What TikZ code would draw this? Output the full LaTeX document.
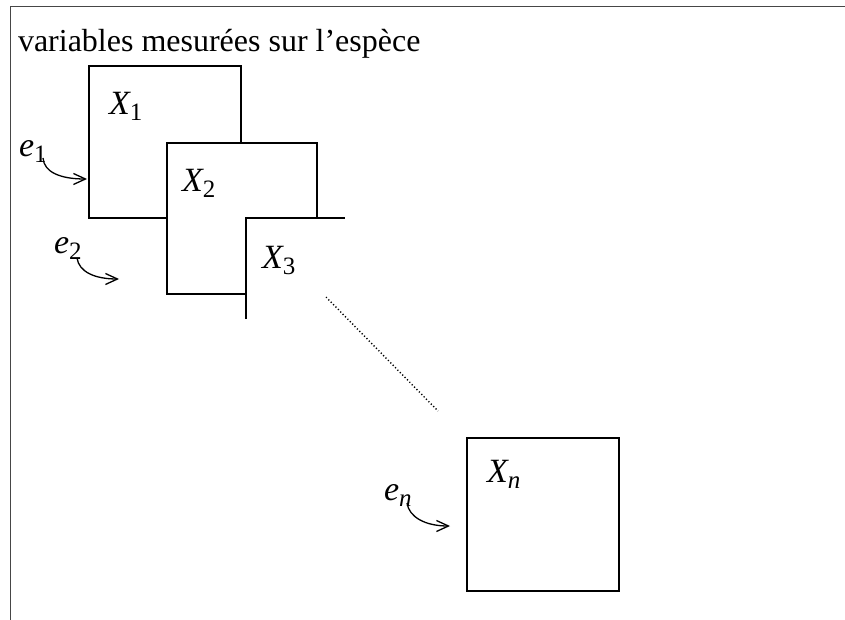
\documentclass[tikz,border=0pt]{standalone}
\usepackage{fontspec}
\setmainfont{Liberation Serif}
\usetikzlibrary{arrows.meta}
\newcommand{\bigX}{{\fontsize{34}{34}\selectfont\itshape X}}
\newcommand{\bige}{{\fontsize{34}{34}\selectfont\itshape e}}
\newcommand{\subtxt}[1]{\raisebox{-6pt}{\fontsize{25}{25}\selectfont\upshape #1}}
\begin{document}
\begin{tikzpicture}[x=1pt,y=-1pt,
  frame/.style={draw={rgb,255:red,70;green,70;blue,70},line width=1.8pt},
  boxline/.style={draw=black,line width=1.4pt},
  lbl/.style={anchor=base west,inner sep=0pt,outer sep=0pt},
  curvearrow/.style={draw=black,line width=1.3pt,-{Straight Barb[length=12pt,width=11pt,line width=1.3pt]}},
  dotline/.style={draw=black,line width=1.4pt,dash pattern=on 1.2pt off 2.2pt}]
\useasboundingbox (0,0) rectangle (845,620);
% frame
\draw[frame] (10.5,620) -- (10.5,6.5) -- (845,6.5);
% title
\node[lbl] (title) at (18,52) {\fontsize{32}{32}\selectfont variables mesurées sur l’espèce};
% box outlines
\coordinate (x1a) at (241,143);
\coordinate (x1b) at (241,66);
\coordinate (x1c) at (89,66);
\coordinate (x1d) at (89,218);
\coordinate (x1e) at (167,218);
\draw[boxline] (x1a) -- (x1b) -- (x1c) -- (x1d) -- (x1e);
\coordinate (x2a) at (167,143);
\coordinate (x2b) at (317,143);
\coordinate (x2c) at (317,218);
\coordinate (x2d) at (167,294);
\coordinate (x2e) at (246,294);
\draw[boxline] (x2c) -- (x2b) -- (x2a) -- (x2d) -- (x2e);
\coordinate (x3a) at (246,319);
\coordinate (x3b) at (246,218);
\coordinate (x3c) at (345,218);
\draw[boxline] (x3a) -- (x3b) -- (x3c);
\coordinate (xna) at (467,438);
\coordinate (xnb) at (619,591);
\draw[boxline] (xna) rectangle (xnb);
% labels
\node[lbl] (X1) at (109,115) {\bigX\subtxt{1}};
\node[lbl] (X2) at (182,192) {\bigX\subtxt{2}};
\node[lbl] (X3) at (262,268) {\bigX\subtxt{3}};
\node[lbl] (Xn) at (487,482) {\bigX\subtxt{\itshape n}};
\node[lbl] (e1) at (19,157) {\bige\subtxt{1}};
\node[lbl] (e2) at (54,253) {\bige\subtxt{2}};
\node[lbl] (en) at (384,500) {\bige\subtxt{\itshape n}};
% arrows
\coordinate (t1) at (87,179);
\coordinate (t2) at (119,279);
\coordinate (tn) at (450,526);
\draw[curvearrow] (43,158) .. controls (44,172) and (60,179) .. (t1);
\draw[curvearrow] (77,258) .. controls (79,272) and (95,279) .. (t2);
\draw[curvearrow] (407,503) .. controls (409,517) and (425,526) .. (tn);
% dotted continuation
\coordinate (d1) at (326,297);
\coordinate (d2) at (438,411);
\draw[dotline] (d1) -- (d2);
\end{tikzpicture}
\end{document}
